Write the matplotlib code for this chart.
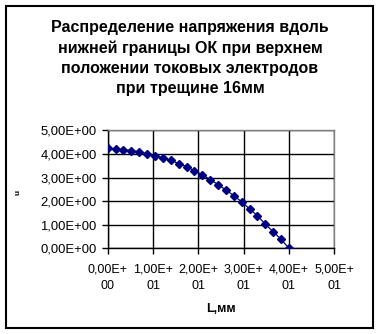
import matplotlib.pyplot as plt
from matplotlib.patches import Rectangle

# data
length_mm = [0.0, 1.74, 3.48, 5.22, 6.96, 8.70, 10.43, 12.17, 13.91, 15.65,
             17.39, 19.13, 20.87, 22.61, 24.35, 26.09, 27.83, 29.57, 31.30,
             33.04, 34.78, 36.52, 38.26, 40.0]
voltage = [4.23, 4.20, 4.18, 4.14, 4.09, 4.01, 3.93, 3.84, 3.73, 3.59,
           3.46, 3.29, 3.12, 2.91, 2.70, 2.47, 2.23, 1.97, 1.67, 1.38,
           1.02, 0.70, 0.38, 0.0]

x_ticks = [0, 10, 20, 30, 40, 50]
x_tick_labels = ['0,00E+\n00', '1,00E+\n01', '2,00E+\n01', '3,00E+\n01',
                 '4,00E+\n01', '5,00E+\n01']
y_ticks = [0, 1, 2, 3, 4, 5]
y_tick_labels = ['0,00E+00', '1,00E+00', '2,00E+00', '3,00E+00',
                 '4,00E+00', '5,00E+00']
title = ('Распределение напряжения вдоль\n'
         'нижней границы ОК при верхнем\n'
         'положении токовых электродов\n'
         'при трещине 16мм')

plt.rcParams['font.family'] = ['Liberation Sans', 'DejaVu Sans']

W, H = 379, 334
fig = plt.figure(figsize=(W / 100, H / 100), dpi=100)

# outer chart frame
fig.patches.append(Rectangle((5.5 / W, 1 - 327.5 / H), 367 / W, 322 / H,
                             transform=fig.transFigure, fill=False,
                             edgecolor='black', linewidth=1.5))

ax = fig.add_axes([107.7 / W, 1 - 248.3 / H, 226.6 / W, 118 / H])
ax.plot(length_mm, voltage, color='#000080', linewidth=0.9,
        marker='D', markersize=4, markerfacecolor='#000080',
        markeredgecolor='#000080', zorder=3)

ax.set_xlim(0, 50)
ax.set_ylim(0, 5)
ax.set_xticks(x_ticks)
ax.set_xticklabels(x_tick_labels, fontsize=9, linespacing=1.5)
ax.set_yticks(y_ticks)
ax.set_yticklabels(y_tick_labels, fontsize=9.4)
ax.tick_params(direction='out', length=4, width=1, color='black')
ax.tick_params(axis='x', pad=7)
ax.tick_params(axis='y', pad=4)
ax.grid(True, color='black', linewidth=1)
ax.set_axisbelow(True)

for side in ['top', 'right']:
    ax.spines[side].set_color('#808080')
    ax.spines[side].set_linewidth(1)
for side in ['left', 'bottom']:
    ax.spines[side].set_color('black')
    ax.spines[side].set_linewidth(1)

ax.set_xlabel('L,мм', fontsize=9, fontweight='bold', labelpad=8)

fig.text(18 / W, 1 - 192 / H, 'u', fontsize=6, fontweight='bold',
         rotation=90, ha='center', va='center')

fig.text(190 / W, 1 - 58 / H, title, fontsize=11.5, fontweight='bold',
         ha='center', va='center', linespacing=1.42)

fig.savefig('out.png', dpi=100)
